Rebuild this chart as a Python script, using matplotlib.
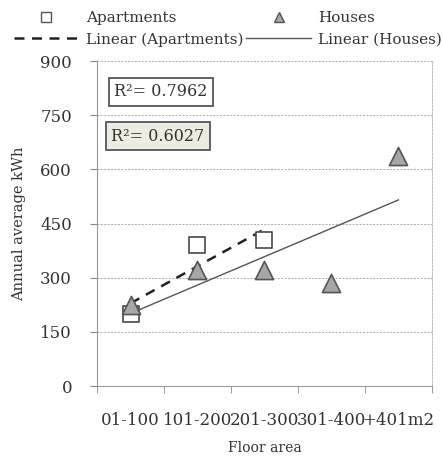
import numpy as np
import matplotlib
matplotlib.use("Agg")
import matplotlib.pyplot as plt
from matplotlib.lines import Line2D

plt.rcParams['font.family'] = ['DejaVu Serif']

categories = ["01-100", "101-200", "201-300", "301-400", "+401m2"]
apartments = [200, 390, 405]
houses = [225, 322, 322, 286, 636]
r2_labels = ["R²= 0.7962", "R²= 0.6027"]

x_apt = np.arange(1, len(apartments) + 1)
x_hou = np.arange(1, len(houses) + 1)

fig = plt.figure(figsize=(4.43, 4.59), dpi=100)
ax = fig.add_axes([0.219, 0.159, 0.756, 0.708])

# trend lines (least squares, like excel)
pa = np.polyfit(x_apt, apartments, 1)
ph = np.polyfit(x_hou, houses, 1)
ax.plot(x_apt, np.polyval(pa, x_apt), color='#222222', lw=1.8, ls=(0, (4, 3)), zorder=3)
ax.plot(x_hou, np.polyval(ph, x_hou), color='#555555', lw=1.0, zorder=3)

ax.scatter(x_apt, apartments, marker='s', s=140, facecolor='white', edgecolor='#555555', lw=1.3, zorder=4)
ax.scatter(x_hou, houses, marker='^', s=170, facecolor='#a6a6a6', edgecolor='#555555', lw=1.2, zorder=5)

ax.set_xlim(0.5, 5.5)
ax.set_ylim(0, 900)
ax.set_yticks(np.arange(0, 901, 150))
ax.set_xticks(x_hou)
ax.set_xticklabels(categories, fontsize=12, color='#333333')
ax.set_xticks(np.arange(0.5, 5.6, 1), minor=True)
ax.tick_params(axis='x', which='major', length=0, pad=19)
ax.tick_params(axis='x', which='minor', length=5, color='#888888', direction='out')
ax.tick_params(axis='y', length=5, color='#888888', labelsize=12, labelcolor='#333333', pad=13)
ax.grid(axis='y', color='#aaaaaa', ls=(0, (2, 1.5)), lw=0.7)
ax.set_axisbelow(True)

for side in ['left', 'bottom']:
    ax.spines[side].set_color('#999999')
ax.spines['top'].set_visible(False)
ax.spines['right'].set_color('#bbbbbb')
ax.spines['right'].set_linestyle((0, (2, 1.5)))
ax.spines['right'].set_linewidth(0.7)

ax.set_ylabel("Annual average kWh", fontsize=10.5, color='#333333', labelpad=10)
ax.set_xlabel("Floor area", fontsize=10, color='#333333', labelpad=8)

ax.text(0.052, 0.905, r2_labels[0], transform=ax.transAxes, fontsize=11.5, color='#333333',
        va='center', ha='left',
        bbox=dict(boxstyle='square,pad=0.33', fc='white', ec='#555555', lw=1.3))
ax.text(0.043, 0.769, r2_labels[1], transform=ax.transAxes, fontsize=11.5, color='#333333',
        va='center', ha='left',
        bbox=dict(boxstyle='square,pad=0.33', fc='#eeece1', ec='#555555', lw=1.3))

handles = [
    Line2D([], [], marker='s', ls='none', ms=7, mfc='white', mec='#555555'),
    Line2D([], [], color='#222222', lw=1.8, ls=(0, (4, 3))),
    Line2D([], [], marker='^', ls='none', ms=7, mfc='#a6a6a6', mec='#555555'),
    Line2D([], [], color='#555555', lw=1.0),
]
labels = ["Apartments", "Linear (Apartments)", "Houses", "Linear (Houses)"]
fig.legend(handles, labels, ncol=2, loc='upper center', bbox_to_anchor=(0.515, 1.005),
           frameon=False, fontsize=11, handlelength=4.2, handletextpad=0.5,
           columnspacing=0.2, labelspacing=0.45, labelcolor='#333333')

fig.savefig("out.png", dpi=100)
